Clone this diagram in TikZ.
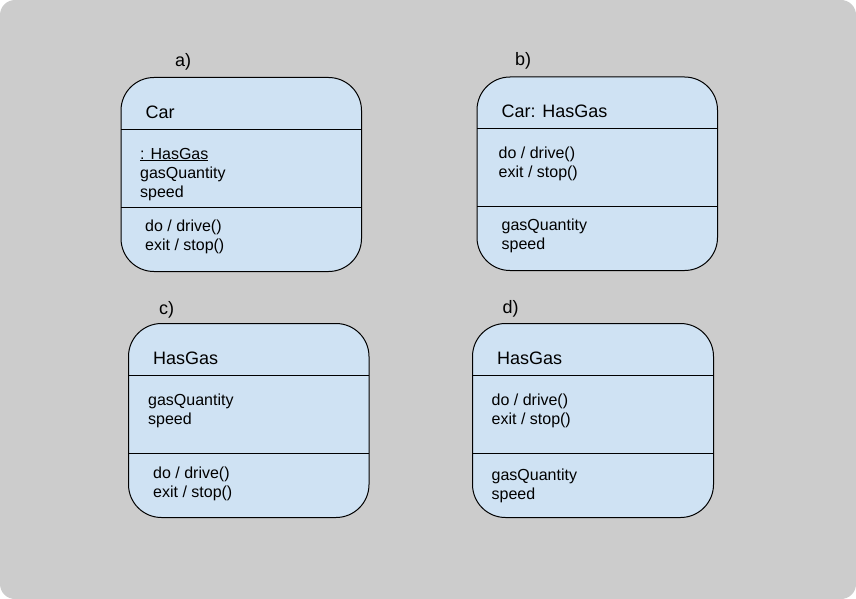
\documentclass[tikz,border=0pt]{standalone}
\usepackage{fontspec}
\setmainfont{Liberation Sans}
\definecolor{bggrey}{HTML}{CCCCCC}
\definecolor{boxblue}{HTML}{CFE2F3}
\tikzset{
  statebox/.style={draw=black, line width=1pt, fill=boxblue, rounded corners=33pt},
  divider/.style={draw=black, line width=1pt},
  title/.style={anchor=base west, inner sep=0pt, font=\fontsize{18}{21}\selectfont},
  body/.style={anchor=base west, inner sep=0pt, font=\fontsize{16}{19}\selectfont},
  tag/.style={anchor=base west, inner sep=0pt, font=\fontsize{18}{21}\selectfont}
}
\begin{document}
\begin{tikzpicture}[x=1pt,y=-1pt]
\useasboundingbox (0,0) rectangle (856,599);
\fill[white] (0,0) rectangle (856,599);
\fill[bggrey, rounded corners=15pt] (0,0) rectangle (856,599);

% a)
\node[tag] (la) at (175,66.5) {a)};
\draw[statebox] (121,77.5) rectangle (361.5,271.5);
\draw[divider] (121,129.5) -- (361.5,129.5);
\draw[divider] (121,207.5) -- (361.5,207.5);
\node[title] (a1) at (145.5,119) {Car};
\node[body] (a2) at (140,159) {\underline{: HasGas}};
\node[body] (a3) at (140,178) {gasQuantity};
\node[body] (a4) at (140,197) {speed};
\node[body] (a5) at (145,231) {do / drive()};
\node[body] (a6) at (145,250) {exit / stop()};

% b)
\node[tag] (lb) at (515,65.5) {b)};
\draw[statebox] (477,77) rectangle (717.5,270.5);
\draw[divider] (477,128.5) -- (717.5,128.5);
\draw[divider] (477,206.5) -- (717.5,206.5);
\node[title] (b1) at (501.5,117.5) {Car: HasGas};
\node[body] (b2) at (498.5,158.5) {do / drive()};
\node[body] (b3) at (498.5,177.5) {exit / stop()};
\node[body] (b4) at (501.5,230.5) {gasQuantity};
\node[body] (b5) at (501.5,249.5) {speed};

% c)
\node[tag] (lc) at (159,314) {c)};
\draw[statebox] (128.5,323.5) rectangle (369,517.5);
\draw[divider] (128.5,375.5) -- (369,375.5);
\draw[divider] (128.5,453.5) -- (369,453.5);
\node[title] (c1) at (153,364) {HasGas};
\node[body] (c2) at (148,405.5) {gasQuantity};
\node[body] (c3) at (148,424.5) {speed};
\node[body] (c4) at (153,478.5) {do / drive()};
\node[body] (c5) at (153,497.5) {exit / stop()};

% d)
\node[tag] (ld) at (502.5,313) {d)};
\draw[statebox] (472.5,323.5) rectangle (713.5,517.5);
\draw[divider] (472.5,375.5) -- (713.5,375.5);
\draw[divider] (472.5,453.5) -- (713.5,453.5);
\node[title] (d1) at (497,364) {HasGas};
\node[body] (d2) at (491.5,405) {do / drive()};
\node[body] (d3) at (491.5,424) {exit / stop()};
\node[body] (d4) at (491.5,480.5) {gasQuantity};
\node[body] (d5) at (491.5,499.5) {speed};
\end{tikzpicture}
\end{document}
